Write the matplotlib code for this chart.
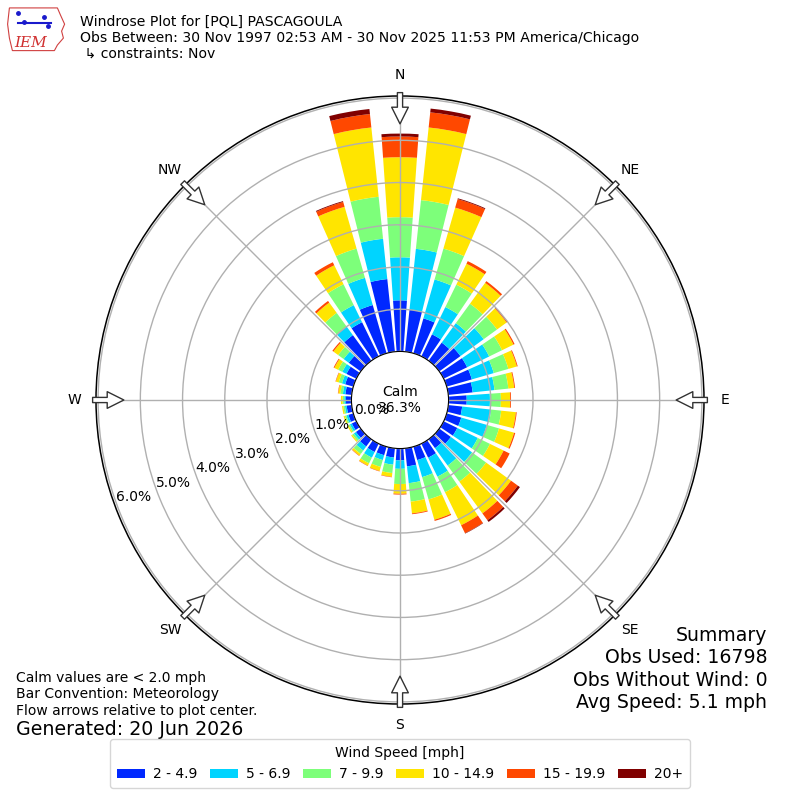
import numpy as np
from matplotlib import pyplot as plt
from matplotlib.patches import Polygon

# 风向 (每10度一个扇区) 与风速分档
directions = np.arange(0, 360, 10)
speed_bins = ['2 - 4.9', '5 - 6.9', '7 - 9.9', '10 - 14.9', '15 - 19.9', '20+']
colors = ['#0028ff', '#00d4ff', '#7dff7a', '#ffe500', '#ff4800', '#800000']

# 各档频率 [%], 从 0° 到 350°
spd_2_5 = [1.21, 1.00, 0.86, 0.58, 0.53, 0.62, 0.62, 0.62, 0.58, 0.43, 0.33, 0.36,
           0.36, 0.34, 0.26, 0.37, 0.33, 0.43, 0.28, 0.22, 0.21, 0.22, 0.21, 0.14,
           0.12, 0.12, 0.12, 0.13, 0.15, 0.20, 0.26, 0.35, 0.75, 0.90, 1.19, 1.73]
spd_5_7 = [1.02, 1.45, 0.96, 0.72, 0.57, 0.68, 0.58, 0.54, 0.52, 0.55, 0.69, 0.63,
           0.54, 0.62, 0.51, 0.50, 0.42, 0.40, 0.20, 0.17, 0.12, 0.15, 0.12, 0.06,
           0.05, 0.05, 0.04, 0.04, 0.06, 0.08, 0.11, 0.15, 0.25, 0.45, 0.67, 0.96]
spd_7_10 = [0.95, 1.16, 0.76, 0.59, 0.57, 0.39, 0.34, 0.36, 0.33, 0.26, 0.24, 0.30,
            0.32, 0.41, 0.47, 0.41, 0.55, 0.44, 0.36, 0.20, 0.17, 0.15, 0.10, 0.05,
            0.04, 0.04, 0.04, 0.04, 0.06, 0.08, 0.11, 0.16, 0.40, 0.55, 0.72, 1.00]
spd_10_15 = [1.42, 1.73, 1.01, 0.55, 0.61, 0.28, 0.30, 0.21, 0.14, 0.22, 0.35, 0.37,
             0.36, 0.73, 0.93, 0.87, 0.50, 0.28, 0.23, 0.09, 0.10, 0.06, 0.05, 0.03,
             0.03, 0.03, 0.03, 0.04, 0.05, 0.07, 0.10, 0.14, 0.30, 0.50, 1.03, 1.65]
spd_15_20 = [0.49, 0.36, 0.21, 0.07, 0.05, 0.03, 0.03, 0.02, 0.02, 0.02, 0.02, 0.03,
             0.16, 0.20, 0.20, 0.21, 0.03, 0.02, 0.02, 0.01, 0.01, 0.01, 0.01, 0.00,
             0.00, 0.00, 0.00, 0.00, 0.01, 0.01, 0.02, 0.03, 0.05, 0.08, 0.12, 0.32]
spd_20p = [0.07, 0.09, 0.02, 0.00, 0.00, 0.00, 0.00, 0.00, 0.00, 0.00, 0.00, 0.00,
           0.00, 0.06, 0.05, 0.01, 0.00, 0.00, 0.00, 0.00, 0.00, 0.00, 0.00, 0.00,
           0.00, 0.00, 0.00, 0.00, 0.00, 0.00, 0.00, 0.00, 0.00, 0.00, 0.02, 0.12]
series = [spd_2_5, spd_5_7, spd_7_10, spd_10_15, spd_15_20, spd_20p]

calm_pct = 36.3
r_ticks = [0, 1, 2, 3, 4, 5, 6]
compass = ['N', 'NE', 'E', 'SE', 'S', 'SW', 'W', 'NW']
compass_deg = np.arange(0, 360, 45)

title = ('Windrose Plot for [PQL] PASCAGOULA\n'
         'Obs Between: 30 Nov 1997 02:53 AM - 30 Nov 2025 11:53 PM America/Chicago\n'
         ' \u21b3 constraints: Nov')
notes = 'Calm values are < 2.0 mph\nBar Convention: Meteorology\nFlow arrows relative to plot center.'
generated = 'Generated: 20 Jun 2026'
summary = 'Summary\nObs Used: 16798\nObs Without Wind: 0\nAvg Speed: 5.1 mph'

fig = plt.figure(figsize=(8, 8), dpi=100)
ax = fig.add_axes([0.12, 0.12, 0.76, 0.76], projection='polar')
ax.set_theta_zero_location('N')
ax.set_theta_direction(-1)
ax.set_rorigin(-1.15)  # 中间留出静风圆
ax.set_ylim(0, 6.05)

theta = np.radians(directions)
bottom = np.zeros(len(directions))
for vals, col, lab in zip(series, colors, speed_bins):
    ax.bar(theta, vals, width=np.radians(8), bottom=bottom, color=col, label=lab, linewidth=0)
    bottom += np.array(vals)

ax.set_xticks(np.radians(compass_deg))
ax.set_xticklabels([])
ax.set_yticks(r_ticks)
ax.set_yticklabels([])
ax.grid(True, color='#b0b0b0', linewidth=1)
ax.spines['polar'].set_linewidth(1.1)

# 径向刻度标签
for v in r_ticks:
    ax.text(np.radians(250), v - 0.43, '%.1f%%' % v, ha='center', va='center', fontsize=10)

# 方位标签与箭头
for d, lab in zip(compass_deg, compass):
    t = np.radians(d)
    ax.text(t, 6.55, lab, ha='center', va='center', fontsize=10)
    ax.annotate('', xy=(t, 5.39), xytext=(t, 6.13), annotation_clip=False,
                arrowprops=dict(arrowstyle='simple,head_length=0.8,head_width=0.8,tail_width=0.25',
                                fc='white', ec='#333333', lw=1, shrinkA=0, shrinkB=0,
                                mutation_scale=15))

ax.text(0.5, 0.5, 'Calm\n%.1f%%' % calm_pct, transform=ax.transAxes,
        ha='center', va='center', fontsize=10)

fig.text(0.1, 0.982, title, va='top', ha='left', fontsize=10.1)
fig.text(0.02, 0.161, notes, va='top', ha='left', fontsize=10)
fig.text(0.02, 0.1, generated, va='top', ha='left', fontsize=13.7)
fig.text(0.959, 0.218, summary, va='top', ha='right', multialignment='right',
         fontsize=13.6, linespacing=1.23)

fig.legend(*ax.get_legend_handles_labels(), loc='lower center', bbox_to_anchor=(0.5, 0.006),
           ncol=6, title='Wind Speed [mph]', fontsize=10, title_fontsize=10,
           columnspacing=0.9, handletextpad=0.6, borderpad=0.5)

# IEM 标志 (简化)
lax = fig.add_axes([0.008, 0.935, 0.075, 0.058])
lax.set_xlim(0, 1)
lax.set_ylim(0, 1)
lax.axis('off')
lax.add_patch(Polygon([[0.05, 0.95], [0.85, 0.95], [0.9, 0.8], [0.97, 0.6], [0.92, 0.45],
                       [0.95, 0.3], [0.85, 0.15], [0.8, 0.03], [0.1, 0.03], [0.05, 0.3],
                       [0.02, 0.6]], closed=True, fill=False, ec='#d04040', lw=0.8))
lax.plot([0.2, 0.75], [0.62, 0.62], color='#1a1acc', lw=1.5)
lax.plot([0.2, 0.3, 0.62, 0.7], [0.85, 0.65, 0.75, 0.55], 'o', color='#1a1acc', ms=2.5)
lax.text(0.13, 0.1, 'IEM', color='#d03030', fontsize=11, family='serif', style='italic')

fig.savefig('out.png', dpi=100)
